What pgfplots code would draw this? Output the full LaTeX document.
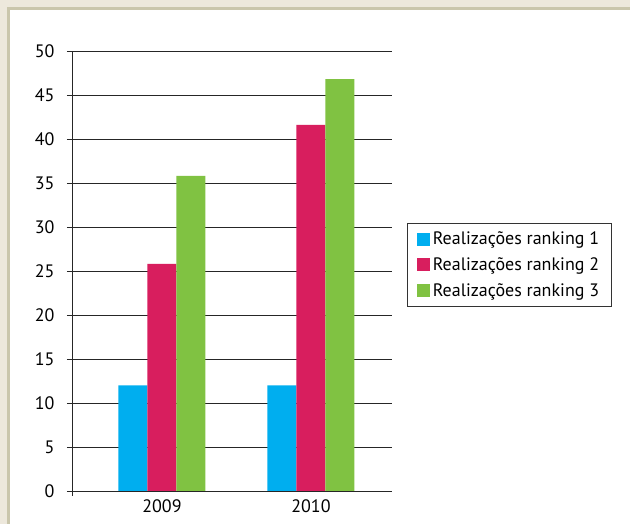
\documentclass[border=0pt]{standalone}
\usepackage{pgfplots}
\pgfplotsset{compat=1.18}
\usepackage{fontspec}
\setmainfont{PT Sans}
\definecolor{cblue}{RGB}{0,174,239}
\definecolor{cred}{RGB}{216,30,94}
\definecolor{cgreen}{RGB}{128,194,66}
\definecolor{bgbeige}{RGB}{237,232,220}
\definecolor{framec}{RGB}{202,198,172}
\begin{document}
\begin{tikzpicture}[x=1pt,y=1pt]
\useasboundingbox (0,0) rectangle (630,524);
\fill[bgbeige] (0,0) rectangle (630,524);
\fill[framec] (7,0) rectangle (630,517);
\fill[white] (10,0) rectangle (630,514);
\begin{axis}[
  at={(72pt,33pt)}, anchor=south west,
  scale only axis, width=320pt, height=440pt,
  xmin=-0.604, xmax=1.544, ymin=0, ymax=50,
  ybar=0pt, bar width=29pt,
  axis x line*=bottom, axis y line*=left,
  ytick={0,5,...,50}, xtick={0,1}, xticklabels={2009,2010},
  ymajorgrids, grid style={black!85, line width=0.8pt},
  axis line style={black!85, line width=0.8pt},
  y axis line style={shorten <=-5pt},
  tick align=outside, major tick length=5pt,
  xtick style={draw=none},
  ytick style={black!85, line width=0.8pt},
  tick label style={font=\fontsize{18}{20}\selectfont},
  yticklabel style={xshift=-9pt},
  /pgf/number format/assume math mode=true,
  legend style={at={(1.047,0.609)}, anchor=north west, draw=black!80, line width=0.6pt,
    font=\fontsize{18}{20}\selectfont, row sep=6.5pt, inner xsep=10pt, inner ysep=6pt,
    nodes={inner sep=2.5pt}},
  legend cell align=left,
  legend image code/.code={\fill[#1] (0pt,-6.5pt) rectangle (13pt,6.5pt);},
]
\addplot[fill=cblue, draw=none] coordinates {(0,12) (1,12)};
\addplot[fill=cred, draw=none] coordinates {(0,25.8) (1,41.6)};
\addplot[fill=cgreen, draw=none] coordinates {(0,35.8) (1,46.8)};
\legend{Realizações ranking 1, Realizações ranking 2, Realizações ranking 3}
\end{axis}
\end{tikzpicture}
\end{document}
